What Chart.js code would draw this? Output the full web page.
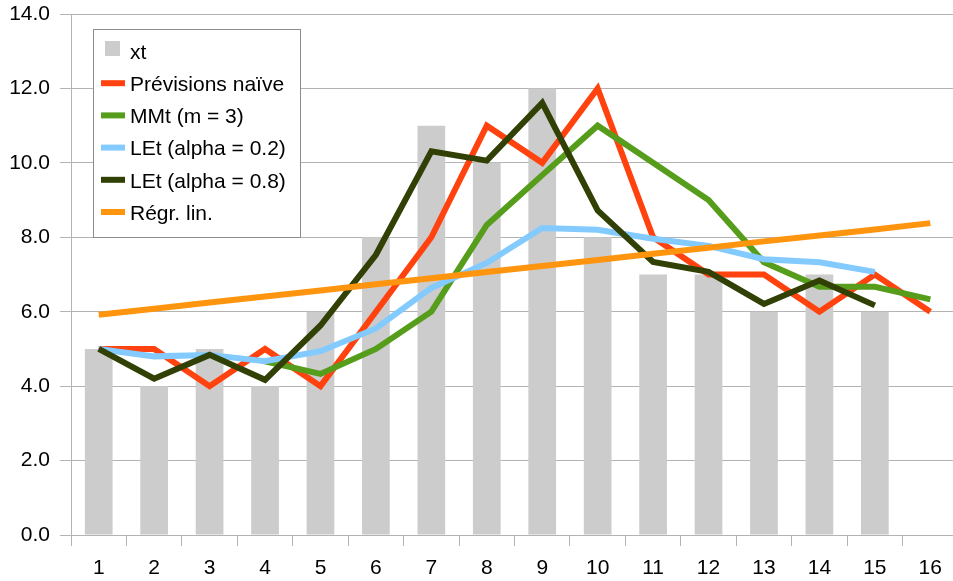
<!DOCTYPE html>
<html>
<head>
<meta charset="utf-8">
<script src="https://cdn.jsdelivr.net/npm/chart.js@4.4.1/dist/chart.umd.min.js"></script>
<style>
  html, body { margin: 0; padding: 0; background: #fff; overflow: hidden; }
  #wrap { width: 958px; height: 581px; }
</style>
</head>
<body>
<div id="wrap"><canvas id="chart"></canvas></div>
<script>
// values
const periods = ['1', '2', '3', '4', '5', '6', '7', '8', '9', '10', '11', '12', '13', '14', '15', '16'];
const xt = [5, 4, 5, 4, 6, 8, 11, 10, 12, 8, 7, 7, 6, 7, 6, null];
const naive = [5, 5, 4, 5, 4, 6, 8, 11, 10, 12, 8, 7, 7, 6, 7, 6];
const mmt3 = [null, null, null, 4.67, 4.33, 5, 6, 8.33, 9.67, 11, 10, 9, 7.33, 6.67, 6.67, 6.33];
const le02 = [5, 4.8, 4.84, 4.67, 4.94, 5.55, 6.64, 7.31, 8.25, 8.2, 7.96, 7.77, 7.41, 7.33, 7.07, null];
const le08 = [5, 4.2, 4.84, 4.17, 5.63, 7.53, 10.31, 10.06, 11.61, 8.72, 7.34, 7.07, 6.21, 6.84, 6.17, null];
const regr = [5.92, 6.08, 6.25, 6.41, 6.57, 6.74, 6.9, 7.07, 7.23, 7.39, 7.56, 7.72, 7.89, 8.05, 8.21, 8.38];

const font = "'Liberation Sans', Arial, sans-serif";
const gridCol = '#b3b3b3';

function line(label, data, color, order) {
    return {
        type: 'line', label: label, data: data,
        borderColor: color, backgroundColor: color,
        borderWidth: 6, pointRadius: 0, pointHoverRadius: 0,
        borderJoinStyle: 'miter', borderCapStyle: 'butt',
        tension: 0, spanGaps: false, order: order
    };
}

// legend box drawn inside the plot, like the office chart
const boxLegend = {
    id: 'boxLegend',
    afterDatasetsDraw(chart) {
        const ctx = chart.ctx;
        const x0 = 93.5, y0 = 29.5, w = 207, h = 208;
        ctx.save();
        ctx.fillStyle = '#fff';
        ctx.fillRect(x0, y0, w, h);
        ctx.strokeStyle = '#8c8c8c';
        ctx.lineWidth = 1;
        ctx.strokeRect(x0, y0, w, h);
        ctx.font = '21px ' + font;
        ctx.textBaseline = 'middle';
        chart.data.datasets.forEach((ds, i) => {
            const cy = 51 + i * 32.2;
            if (ds.type === 'bar') {
                ctx.fillStyle = ds.backgroundColor;
                ctx.fillRect(105, cy - 10, 15, 15);
            } else {
                ctx.fillStyle = ds.borderColor;
                ctx.fillRect(101, cy - 3, 24, 6);
            }
            ctx.fillStyle = '#000';
            ctx.fillText(ds.label, 130, cy + 2);
        });
        ctx.restore();
    }
};

new Chart(document.getElementById('chart'), {
    data: {
        labels: periods,
        datasets: [
            {
                type: 'bar', label: 'xt', data: xt,
                backgroundColor: '#cccccc', borderWidth: 0,
                barPercentage: 0.5, categoryPercentage: 1, order: 10
            },
            line('Prévisions naïve', naive, '#ff420e', 5),
            line('MMt (m = 3)', mmt3, '#579d1c', 4),
            line('LEt (alpha = 0.2)', le02, '#83caff', 3),
            line('LEt (alpha = 0.8)', le08, '#314004', 2),
            line('Régr. lin.', regr, '#ff950e', 1)
        ]
    },
    options: {
        responsive: true,
        maintainAspectRatio: false,
        animation: false,
        layout: { padding: { top: 14, right: 0, left: 0, bottom: 0 } },
        plugins: {
            legend: { display: false },
            tooltip: { enabled: false }
        },
        scales: {
            x: {
                offset: true,
                grid: {
                    offset: true, drawOnChartArea: false, drawTicks: true,
                    tickLength: 11, color: gridCol
                },
                border: { color: gridCol },
                ticks: { color: '#000', font: { family: font, size: 21 }, padding: 10, maxRotation: 0 },
                afterFit(scale) { scale.height = 46; scale.paddingLeft = 0; scale.paddingRight = 0; }
            },
            y: {
                min: 0, max: 14,
                grid: { color: gridCol, tickLength: 11 },
                border: { color: gridCol },
                ticks: {
                    stepSize: 2, color: '#000', padding: 10,
                    font: { family: font, size: 21 },
                    callback: v => v.toFixed(1)
                },
                afterFit(scale) { scale.width = 71; scale.paddingTop = 0; scale.paddingBottom = 0; }
            }
        }
    },
    plugins: [boxLegend]
});
</script>
</body>
</html>
